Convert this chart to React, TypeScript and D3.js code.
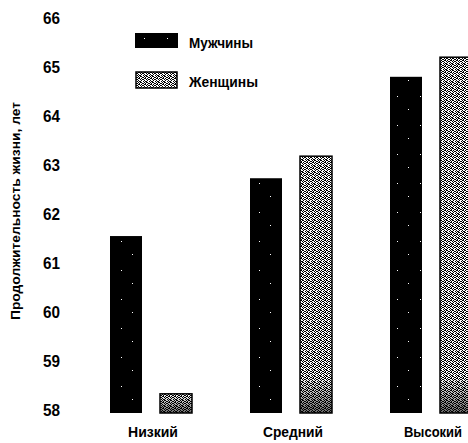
import React from "react";
import * as d3 from "d3";

// Доход (уровень) — продолжительность жизни
const categories = ["Низкий", "Средний", "Высокий"];
const menValues = [61.55, 62.73, 64.8];
const womenValues = [58.33, 63.18, 65.2];
const yTicks = [58, 59, 60, 61, 62, 63, 64, 65, 66];
const seriesNames = ["Мужчины", "Женщины"];
const categoryWidths = [50, 60, 58];
const legendWidths = [64, 69];

const W = 468;
const H = 443;
const FONT = "'Liberation Sans', Arial, sans-serif";

export default function App() {
  const y = d3.scaleLinear().domain([58, 66]).range([410, 18]);
  const xGroup = d3.scalePoint<string>().domain(categories).range([151, 431]);
  const xSub = d3.scaleBand<string>().domain(["m", "w"]).range([-41, 41]).paddingInner(0.36);
  const base = y(58) + 3;

  // dotted texture cells for the women's bars
  const dots: [number, number][] = [
    [0, 0], [1, 0], [3, 0], [4, 1], [2, 1], [5, 1], [0, 2], [1, 3], [3, 2], [5, 3],
    [0, 4], [2, 4], [3, 4], [4, 5], [1, 5], [5, 5], [2, 3],
  ];

  return (
    <svg width={W} height={H} style={{ position: "absolute", left: 0, top: 0, background: "#fff" }}>
      <defs>
        <pattern id="men" width={23} height={29} patternUnits="userSpaceOnUse">
          <rect width={23} height={29} fill="#000" />
          <rect x={6} y={9} width={1} height={1} fill="#fff" />
          <rect x={17} y={22} width={1} height={1} fill="#fff" />
        </pattern>
        <pattern id="women" width={6} height={6} patternUnits="userSpaceOnUse">
          <rect width={6} height={6} fill="#fff" />
          {dots.map(([dx, dy], i) => (
            <rect key={i} x={dx} y={dy} width={1} height={1} fill="#000" />
          ))}
        </pattern>
        <linearGradient id="shade" x1="0" y1="0" x2="0" y2="1">
          <stop offset="0%" stopColor="#000" stopOpacity={0} />
          <stop offset="100%" stopColor="#000" stopOpacity={0.6} />
        </linearGradient>
      </defs>

      {/* y axis tick labels */}
      {yTicks.map(t => (
        <text
          key={t}
          x={60}
          y={y(t)}
          dy="0.36em"
          textAnchor="end"
          fontFamily={FONT}
          fontWeight="bold"
          fontSize={16}
          textLength={17}
          lengthAdjust="spacingAndGlyphs"
          fill="#000"
        >
          {t}
        </text>
      ))}

      {/* y axis title */}
      <text
        transform={`translate(20,${y(62) - 3}) rotate(-90)`}
        textAnchor="middle"
        fontFamily={FONT}
        fontWeight="bold"
        fontSize={13}
        textLength={218}
        lengthAdjust="spacingAndGlyphs"
        fill="#000"
      >
        Продолжительность жизни, лет
      </text>

      {/* bars */}
      {categories.map((c, i) => {
        const cx = xGroup(c) ?? 0;
        const mx = cx + (xSub("m") ?? 0);
        const wx = cx + (xSub("w") ?? 0);
        const bw = xSub.bandwidth();
        const shadeTop = Math.max(y(womenValues[i]), base - 36);
        return (
          <g key={c}>
            <rect x={mx} y={y(menValues[i])} width={bw} height={base - y(menValues[i])} fill="url(#men)" />
            <rect
              x={wx}
              y={y(womenValues[i])}
              width={bw}
              height={base - y(womenValues[i])}
              fill="url(#women)"
              stroke="#000"
              strokeWidth={1.5}
            />
            <rect x={wx} y={shadeTop} width={bw} height={base - shadeTop} fill="url(#shade)" />
            <text
              x={cx + 2}
              y={432}
              dy="0.36em"
              textAnchor="middle"
              fontFamily={FONT}
              fontWeight="bold"
              fontSize={15}
              textLength={categoryWidths[i]}
              lengthAdjust="spacingAndGlyphs"
              fill="#000"
            >
              {c}
            </text>
          </g>
        );
      })}

      {/* legend */}
      <g>
        <rect x={135} y={33} width={43} height={15} fill="url(#men)" />
        <text
          x={189}
          y={43}
          dy="0.36em"
          fontFamily={FONT}
          fontWeight="bold"
          fontSize={14}
          textLength={legendWidths[0]}
          lengthAdjust="spacingAndGlyphs"
          fill="#000"
        >
          {seriesNames[0]}
        </text>
        <rect x={136} y={72} width={41} height={16} fill="url(#women)" stroke="#000" strokeWidth={1.5} />
        <text
          x={189}
          y={82}
          dy="0.36em"
          fontFamily={FONT}
          fontWeight="bold"
          fontSize={14}
          textLength={legendWidths[1]}
          lengthAdjust="spacingAndGlyphs"
          fill="#000"
        >
          {seriesNames[1]}
        </text>
      </g>
    </svg>
  );
}
